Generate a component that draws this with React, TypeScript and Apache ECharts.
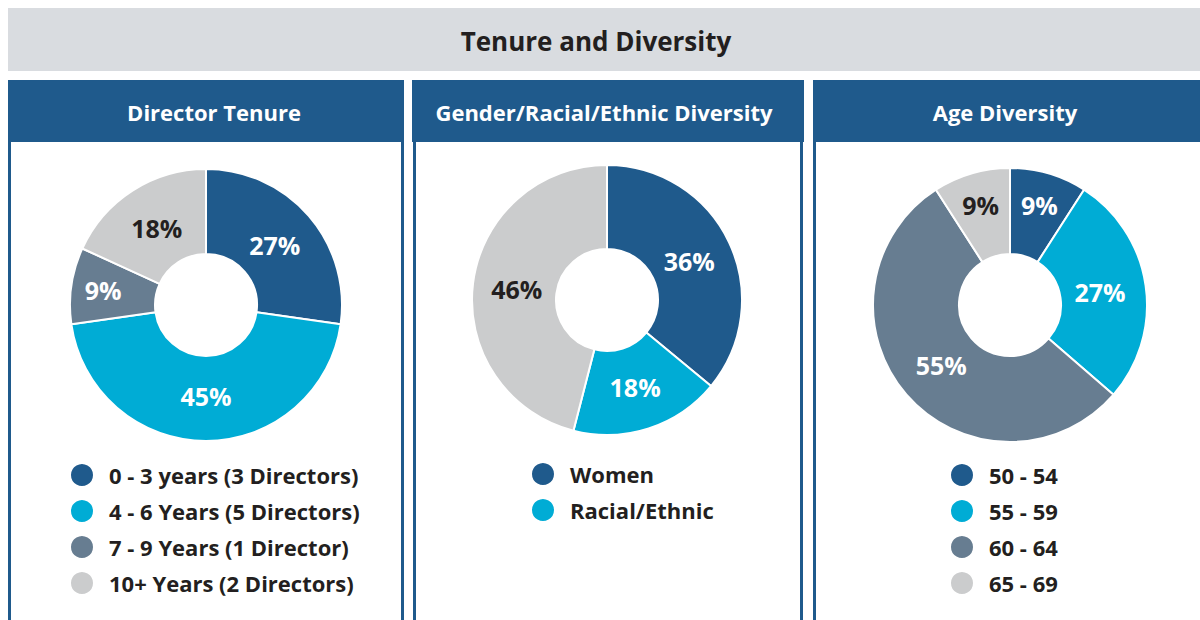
import React, { useEffect, useRef } from "react";
import * as echarts from "echarts";

const pageTitle = "Tenure and Diversity";
const panelTitles = ["Director Tenure", "Gender/Racial/Ethnic Diversity", "Age Diversity"];

const tenureNames = ["0 - 3 years (3 Directors)", "4 - 6 Years (5 Directors)", "7 - 9 Years (1 Director)", "10+ Years (2 Directors)"];
const tenureValues = [3, 5, 1, 2];

const diversityNames = ["Women", "Racial/Ethnic", "Other"];
const diversityValues = [36, 18, 46];
const diversityLegend = ["Women", "Racial/Ethnic"];

const ageNames = ["50 - 54", "55 - 59", "60 - 64", "65 - 69"];
const ageValues = [1, 3, 6, 1];

const BLUE = "#1f5a8c";
const CYAN = "#00acd5";
const SLATE = "#677d91";
const GRAY = "#cbcccd";
const DARK = "#231f20";
const FONT = "'Open Sans', Lato, sans-serif";

const makeData = (names: string[], values: number[], colors: string[]) =>
  names.map((n, i) => ({
    name: n,
    value: values[i],
    itemStyle: { color: colors[i] },
    label: { color: colors[i] === GRAY ? DARK : "#ffffff" },
  }));

// place each percentage label on its slice's mid angle
const labelLayoutFor = (values: number[], cx: number, cy: number) => {
  const total = values.reduce((a, b) => a + b, 0);
  return (params: any) => {
    const i = params.dataIndex;
    let before = 0;
    for (let k = 0; k < i; k++) before += values[k];
    const frac = values[i] / total;
    const mid = ((90 - ((before + values[i] / 2) / total) * 360) * Math.PI) / 180;
    const R = frac <= 0.15 ? 104 : 91;
    return {
      x: cx + R * Math.cos(mid),
      y: cy - R * Math.sin(mid),
      align: "center",
      verticalAlign: "middle",
    };
  };
};

const pieBase = (center: number[], radius: number, values: number[], data: any[]) => ({
  type: "pie",
  center,
  radius: [51, radius],
  startAngle: 90,
  clockwise: true,
  avoidLabelOverlap: false,
  itemStyle: { borderColor: "#ffffff", borderWidth: 2 },
  label: {
    show: true,
    position: "inside",
    fontFamily: FONT,
    fontWeight: "bold",
    fontSize: 25,
    formatter: (p: any) => Math.round(p.percent) + "%",
  },
  labelLine: { show: false },
  labelLayout: labelLayoutFor(values, center[0], center[1]),
  emphasis: { disabled: true },
  data,
});

const legendBase = (left: number, top: number, data: string[]) => ({
  left,
  top,
  padding: 0,
  orient: "vertical",
  icon: "circle",
  itemWidth: 24,
  itemHeight: 24,
  itemGap: 10,
  selectedMode: false,
  data,
  textStyle: {
    fontFamily: FONT,
    fontWeight: "bold",
    fontSize: 22,
    lineHeight: 24,
    color: DARK,
    padding: [0, 0, 0, 10],
  },
});

export default function App() {
  const ref = useRef<HTMLDivElement>(null);
  useEffect(() => {
    if (!ref.current) return;
    const chart = echarts.init(ref.current, null, { renderer: "svg" });
    const panels = [
      { x: 8, w: 396, tx: 214 },
      { x: 412, w: 392, tx: 604 },
      { x: 813, w: 400, tx: 1005 },
    ];
    const lines = [8, 401, 413, 800, 813];
    const graphic: any[] = [
      { type: "rect", shape: { x: 8, y: 8, width: 1192, height: 63 }, style: { fill: "#d9dce0" }, z: 0 },
      {
        type: "text",
        x: 596,
        y: 41,
        style: { text: pageTitle, fill: DARK, font: `bold 26px ${FONT}`, textAlign: "center", textVerticalAlign: "middle" },
        z: 1,
      },
    ];
    panels.forEach((p, i) => {
      graphic.push({ type: "rect", shape: { x: p.x, y: 80, width: p.w, height: 62 }, style: { fill: BLUE }, z: 0 });
      graphic.push({
        type: "text",
        x: p.tx,
        y: 112,
        style: { text: panelTitles[i], fill: "#ffffff", font: `bold 22px ${FONT}`, textAlign: "center", textVerticalAlign: "middle" },
        z: 1,
      });
    });
    lines.forEach((x) => {
      graphic.push({ type: "rect", shape: { x, y: 142, width: 3, height: 480 }, style: { fill: BLUE }, z: 0 });
    });

    chart.setOption({
      animation: false,
      graphic,
      legend: [
        legendBase(69, 462, tenureNames),
        legendBase(530, 461, diversityLegend),
        legendBase(949, 462, ageNames),
      ],
      series: [
        pieBase([206, 305], 136, tenureValues, makeData(tenureNames, tenureValues, [BLUE, CYAN, SLATE, GRAY])),
        pieBase([607, 300], 135, diversityValues, makeData(diversityNames, diversityValues, [BLUE, CYAN, GRAY])),
        pieBase([1010, 305], 137, ageValues, makeData(ageNames, ageValues, [BLUE, CYAN, SLATE, GRAY])),
      ],
    });
    return () => chart.dispose();
  }, []);
  return (
    <div
      ref={ref}
      style={{ position: "fixed", left: 0, top: 0, width: 1200, height: 620, background: "#ffffff" }}
    />
  );
}
